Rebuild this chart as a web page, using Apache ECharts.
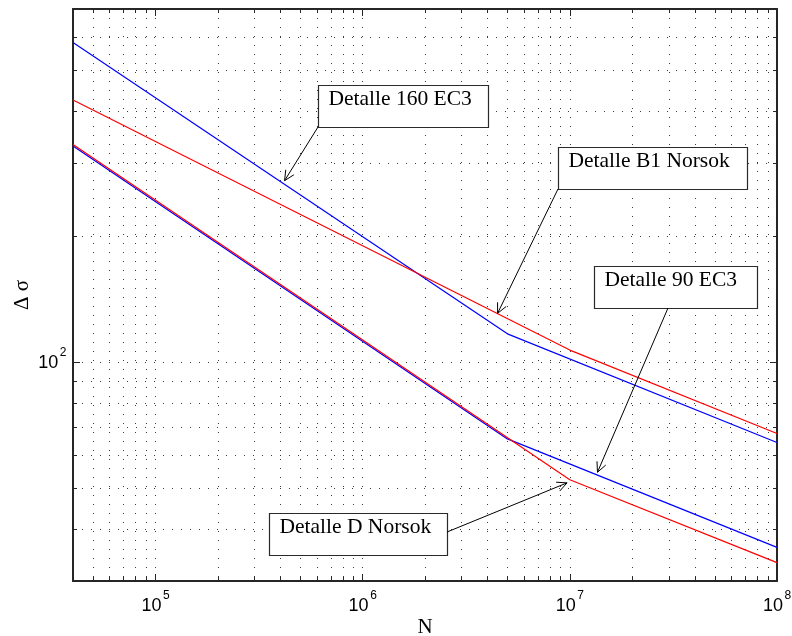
<!DOCTYPE html>
<html>
<head>
<meta charset="utf-8">
<script src="https://cdn.jsdelivr.net/npm/echarts@6/dist/echarts.min.js"></script>
<style>
  html, body { margin: 0; padding: 0; background: #ffffff; }
  #chart { width: 792px; height: 636px; }
</style>
</head>
<body>
<div id="chart"></div>
<script>
// ---- axis ranges and ticks ----
const X_MIN = 4e4, X_MAX = 1e8;
const Y_MIN = 30, Y_MAX = 700;
const xMajorTicks = [1e5, 1e6, 1e7, 1e8];
const yMajorTicks = [100];
const xMinorTicks = [5e4, 6e4, 7e4, 8e4, 9e4,
  2e5, 3e5, 4e5, 5e5, 6e5, 7e5, 8e5, 9e5,
  2e6, 3e6, 4e6, 5e6, 6e6, 7e6, 8e6, 9e6,
  2e7, 3e7, 4e7, 5e7, 6e7, 7e7, 8e7, 9e7];
const yMinorTicks = [40, 50, 60, 70, 80, 90, 200, 300, 400, 500, 600];

// ---- S-N curves: breakpoints (N, delta sigma) ----
const nEC3 = [4e4, 5e6, 1e8];
const ec3Det160 = [582, 117, 64.3];
const ec3Det90 = [329, 65.6, 36.1];
const nNorsok = [4e4, 1e7, 1e8];
const norsokB1 = [424, 107, 67.6];
const norsokD = [332, 52.4, 33.2];

// ---- annotations: label text and the curve point each arrow points at ----
const noteTexts = ['Detalle 160 EC3', 'Detalle B1 Norsok', 'Detalle 90 EC3', 'Detalle D Norsok'];
const noteTargetN = [4.2e5, 4.48e6, 1.36e7, 9.7e6];
const noteTargetS = [272, 131, 54.6, 51.5];

// annotation box layout (pixels): [left, top, width, height]
const noteBoxes = [
  [318, 85, 170, 42],
  [558, 147, 189, 42],
  [594, 266, 163, 42],
  [269, 513, 178, 42]
];
// where each arrow leaves its box (pixels)
const noteArrowStart = [
  [318, 127],
  [558, 189],
  [668, 308],
  [447, 532]
];

const AXIS_FONT = '"Liberation Sans", Arial, Helvetica, sans-serif';
const SERIF_FONT = '"Liberation Serif", "Times New Roman", serif';
const DOT = [1, 8];

function zip(xs, ys) { return xs.map((x, i) => [x, ys[i]]); }

const axisLineStyle = { show: true, lineStyle: { color: '#262626', width: 2 } };
const majorTick = { show: true, inside: true, length: 7, lineStyle: { color: '#262626', width: 1 } };
const dottedSplit = { show: true, lineStyle: { color: '#3a3a3a', width: 1, type: DOT } };

// kind 0/1: minor grid + minor ticks on x / y; kind 2/3: power-of-ten labels on x / y
const frameData = xMinorTicks.map(v => [v, Y_MIN, 0])
  .concat(yMinorTicks.map(v => [X_MIN, v, 1]))
  .concat(xMajorTicks.map(v => [v, Y_MIN, 2]))
  .concat(yMajorTicks.map(v => [X_MIN, v, 3]));

function powText(x, y, base, exp, alignRight) {
  return [
    { type: 'text', style: { text: '10', x: x, y: y, font: '18px ' + AXIS_FONT, fill: '#000',
        textAlign: 'right', align: 'right', textVerticalAlign: 'middle', verticalAlign: 'middle' } },
    { type: 'text', style: { text: String(exp), x: x + 1.5, y: y - base, font: '12px ' + AXIS_FONT, fill: '#000',
        textAlign: 'left', align: 'left', textVerticalAlign: 'middle', verticalAlign: 'middle' } }
  ];
}

function renderFrame(params, api) {
  const kind = api.value(2);
  let children = [];
  const tickStyle = { stroke: '#262626', lineWidth: 1 };
  const gridStyle = { stroke: '#3a3a3a', lineWidth: 1, lineDash: DOT };
  if (kind === 0) {
    const v = api.value(0);
    const pb = api.coord([v, Y_MIN]);
    const pt = api.coord([v, Y_MAX]);
    const x = Math.round(pb[0]) + 0.5;
    children.push({ type: 'line', shape: { x1: x, y1: pt[1], x2: x, y2: pb[1] }, style: gridStyle });
    children.push({ type: 'line', shape: { x1: x, y1: pb[1], x2: x, y2: pb[1] - 4 }, style: tickStyle });
    children.push({ type: 'line', shape: { x1: x, y1: pt[1], x2: x, y2: pt[1] + 4 }, style: tickStyle });
  } else if (kind === 1) {
    const v = api.value(1);
    const pl = api.coord([X_MIN, v]);
    const pr = api.coord([X_MAX, v]);
    const y = Math.round(pl[1]) + 0.5;
    children.push({ type: 'line', shape: { x1: pl[0], y1: y, x2: pr[0], y2: y }, style: gridStyle });
    children.push({ type: 'line', shape: { x1: pl[0], y1: y, x2: pl[0] + 4, y2: y }, style: tickStyle });
    children.push({ type: 'line', shape: { x1: pr[0], y1: y, x2: pr[0] - 4, y2: y }, style: tickStyle });
  } else if (kind === 2) {
    const v = api.value(0);
    const p = api.coord([v, Y_MIN]);
    children = powText(p[0] + 6, p[1] + 24.6, 10.3, Math.round(Math.log10(v)));
  } else {
    const v = api.value(1);
    const p = api.coord([X_MIN, v]);
    children = powText(p[0] - 14.7, p[1] + 1, 10.3, Math.round(Math.log10(v)));
  }
  return { type: 'group', children: children };
}

const chart = echarts.init(document.getElementById('chart'), null, { renderer: 'canvas' });

const option = {
  animation: false,
  backgroundColor: '#ffffff',
  grid: { left: 73, right: 15, top: 9, bottom: 55, containLabel: false, outerBoundsMode: 'none' },
  xAxis: [
    {
      type: 'log', logBase: 10, min: X_MIN, max: X_MAX, position: 'bottom',
      name: 'N', nameLocation: 'middle', nameGap: 36,
      nameTextStyle: { fontFamily: SERIF_FONT, fontSize: 21, color: '#000' },
      axisLine: axisLineStyle, axisTick: majorTick,
      axisLabel: { show: false },
      splitLine: dottedSplit
    },
    {
      type: 'log', logBase: 10, min: X_MIN, max: X_MAX, position: 'top',
      axisLine: axisLineStyle, axisTick: majorTick,
      axisLabel: { show: false }, splitLine: { show: false }
    }
  ],
  yAxis: [
    {
      type: 'log', logBase: 10, min: Y_MIN, max: Y_MAX, position: 'left',
      name: '\u0394 \u03c3', nameLocation: 'middle', nameGap: 40, nameRotate: 90,
      nameTextStyle: { fontFamily: SERIF_FONT, fontSize: 21, color: '#000' },
      axisLine: axisLineStyle, axisTick: majorTick,
      axisLabel: { show: false },
      splitLine: dottedSplit
    },
    {
      type: 'log', logBase: 10, min: Y_MIN, max: Y_MAX, position: 'right',
      axisLine: axisLineStyle, axisTick: majorTick,
      axisLabel: { show: false }, splitLine: { show: false }
    }
  ],
  series: [
    {
      name: 'frame', type: 'custom', xAxisIndex: 0, yAxisIndex: 0,
      data: frameData, renderItem: renderFrame, silent: true, z: 1, clip: false
    },
    {
      name: 'Detalle 160 EC3', type: 'line', data: zip(nEC3, ec3Det160),
      showSymbol: false, symbol: 'none', lineStyle: { color: '#0000ff', width: 1.2 }, z: 3
    },
    {
      name: 'Detalle B1 Norsok', type: 'line', data: zip(nNorsok, norsokB1),
      showSymbol: false, symbol: 'none', lineStyle: { color: '#ff0000', width: 1.2 }, z: 3
    },
    {
      name: 'Detalle 90 EC3', type: 'line', data: zip(nEC3, ec3Det90),
      showSymbol: false, symbol: 'none', lineStyle: { color: '#0000ff', width: 1.2 }, z: 3
    },
    {
      name: 'Detalle D Norsok', type: 'line', data: zip(nNorsok, norsokD),
      showSymbol: false, symbol: 'none', lineStyle: { color: '#ff0000', width: 1.2 }, z: 3
    }
  ]
};

chart.setOption(option);

// ---- annotation boxes with arrows pointing at curve points ----
const elements = [];
noteTexts.forEach((txt, i) => {
  const b = noteBoxes[i];
  elements.push({
    type: 'rect', z: 100,
    shape: { x: b[0] + 0.5, y: b[1] + 0.5, width: b[2], height: b[3] },
    style: { fill: '#ffffff', stroke: '#2a2a2a', lineWidth: 1.2 }
  });
  elements.push({
    type: 'text', z: 101,
    style: { text: txt, x: b[0] + 10.5, y: b[1] + 3, font: '21.5px ' + SERIF_FONT, fill: '#000', textVerticalAlign: 'top', verticalAlign: 'top' }
  });
  const s = noteArrowStart[i];
  const tip = chart.convertToPixel({ gridIndex: 0 }, [noteTargetN[i], noteTargetS[i]]);
  const ang = Math.atan2(tip[1] - s[1], tip[0] - s[0]);
  const L = 11, th = 0.45;
  const w1 = [tip[0] - L * Math.cos(ang - th), tip[1] - L * Math.sin(ang - th)];
  const w2 = [tip[0] - L * Math.cos(ang + th), tip[1] - L * Math.sin(ang + th)];
  elements.push({
    type: 'line', z: 100,
    shape: { x1: s[0], y1: s[1], x2: tip[0], y2: tip[1] },
    style: { stroke: '#000', lineWidth: 1 }
  });
  elements.push({
    type: 'polyline', z: 100,
    shape: { points: [w1, tip, w2] },
    style: { stroke: '#000', lineWidth: 1, fill: null }
  });
});
chart.setOption({ graphic: { elements: elements } });
</script>
</body>
</html>
